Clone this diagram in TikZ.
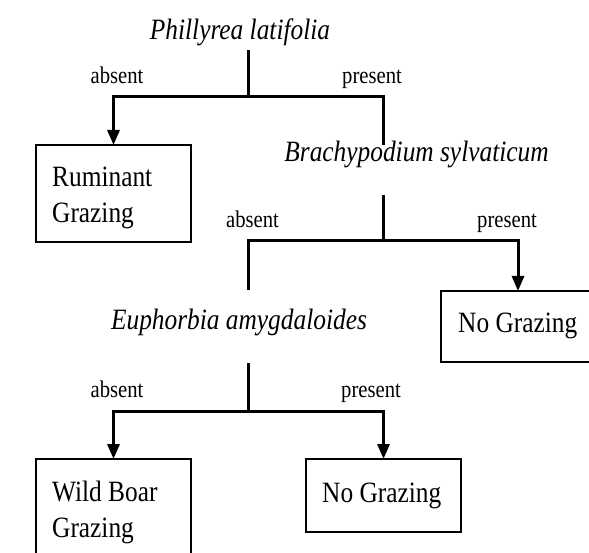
\documentclass[tikz,border=0pt]{standalone}
\usepackage{fontspec}
\setmainfont{Liberation Serif}[FakeStretch=0.86]
\usetikzlibrary{arrows.meta}
\tikzset{
  species/.style={inner sep=0pt, anchor=base, font=\fontsize{29.5}{36}\selectfont\itshape},
  lbl/.style={inner sep=0pt, anchor=base, font=\fontsize{24}{29}\selectfont},
  boxtext/.style={inner sep=0pt, anchor=base west, font=\fontsize{29.5}{36}\selectfont},
  outbox/.style={draw, line width=1.6pt, inner sep=0pt, outer sep=0pt, anchor=north west},
  conn/.style={line width=3pt},
  arr/.style={line width=3pt, -{Triangle[length=15pt,width=12pt]}},
}
\begin{document}
\begin{tikzpicture}[x=1pt,y=-1pt]
\useasboundingbox (0,0) rectangle (589,553);
\fill[white] (0,0) rectangle (589,553);
\clip (0,0) rectangle (589,553);

% species
\node[species] (phil)  at (240,40)  {Phillyrea latifolia};
\node[species] (brach) at (416.5,162) {Brachypodium sylvaticum};
\node[species] (euph)  at (239,330) {Euphorbia amygdaloides};

% boxes
\node[outbox, minimum width=155pt, minimum height=97pt] (rum) at (36,145) {};
\node[boxtext] (rum1) at (52,187) {Ruminant};
\node[boxtext] (rum2) at (52,223) {Grazing};

\node[outbox, minimum width=159pt, minimum height=71pt] (ng1) at (441,291) {};
\node[boxtext] (ng1t) at (458,333) {No Grazing};

\node[outbox, minimum width=155pt, minimum height=141pt] (wb) at (36,459) {};
\node[boxtext] (wb1) at (52,501) {Wild Boar};
\node[boxtext] (wb2) at (52,537) {Grazing};

\node[outbox, minimum width=155pt, minimum height=73pt] (ng2) at (306,459) {};
\node[boxtext] (ng2t) at (322,502) {No Grazing};

% labels
\node[lbl] (l1a) at (117,84) {absent};
\node[lbl] (l1p) at (372,84) {present};
\node[lbl] (l2a) at (252.5,228) {absent};
\node[lbl] (l2p) at (507,228) {present};
\node[lbl] (l3a) at (117,397) {absent};
\node[lbl] (l3p) at (371,397) {present};

% junction coordinates
\coordinate (p_out) at (248,50);
\coordinate (j1) at (248,97);
\coordinate (j1r) at (383,97);
\coordinate (b_in) at (383,145);
\coordinate (b_out) at (383,195);
\coordinate (j2) at (383,241);
\coordinate (j2l) at (248,241);
\coordinate (j2r) at (518,241);
\coordinate (e_in) at (248,290);
\coordinate (e_out) at (248,363);
\coordinate (j3) at (248,411);

% connectors
\draw[conn] (p_out) -- (j1);
\draw[arr] (j1) -| (rum.north);
\draw[conn] (j1) -- (j1r) -- (b_in);

\draw[conn] (b_out) -- (j2);
\draw[conn] (j2) -- (j2l) -- (e_in);
\draw[arr] (j2) -- (j2r) -- (j2r |- ng1.north);

\draw[conn] (e_out) -- (j3);
\draw[arr] (j3) -| (wb.north);
\draw[arr] (j3) -| (ng2.north);
\end{tikzpicture}
\end{document}
